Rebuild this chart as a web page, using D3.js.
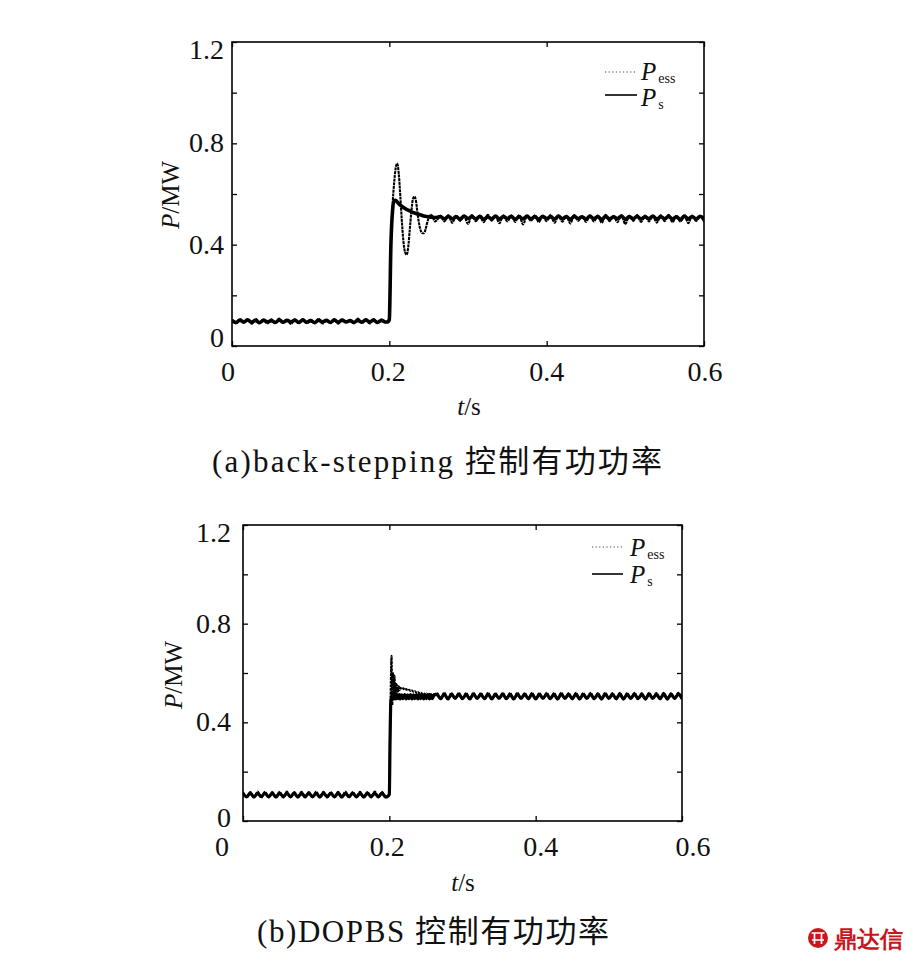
<!DOCTYPE html>
<html><head><meta charset="utf-8">
<script src="https://cdn.jsdelivr.net/npm/d3@7/dist/d3.min.js"></script>
<style>
html,body{margin:0;padding:0;background:#fff;}
svg{display:block;}
text{font-family:"Liberation Serif","Times New Roman",serif;fill:#111;}
.cjk{font-family:"Liberation Serif","Noto Sans CJK SC",serif;}
</style></head>
<body>
<svg id="c" width="913" height="961"></svg>
<script>
// ---------------- DATA ----------------
const xTicks = [0, 0.2, 0.4, 0.6];
const xTickLabels = ["0", "0.2", "0.4", "0.6"];
const yTicks = [0, 0.2, 0.4, 0.6, 0.8, 1.0, 1.2];
const yLabelValues = [0, 0.4, 0.8, 1.2];
const yTickLabels = ["0", "0.4", "0.8", "1.2"];
const seriesNames = ["P_ess", "P_s"];
const captions = ["(a)back-stepping 控制有功功率", "(b)DOPBS 控制有功功率"];

// sample times (s)
const tPre = [0,.005,.01,.015,.02,.025,.03,.035,.04,.045,.05,.055,.06,.065,.07,.075,.08,.085,.09,.095,
  .1,.105,.11,.115,.12,.125,.13,.135,.14,.145,.15,.155,.16,.165,.17,.175,.18,.185,.19,.195];
const tPost = [.265,.27,.275,.28,.285,.29,.295,.3,
  .305,.31,.315,.32,.325,.33,.335,.34,.345,.35,.355,.36,.365,.37,.375,.38,.385,.39,.395,.4,
  .405,.41,.415,.42,.425,.43,.435,.44,.445,.45,.455,.46,.465,.47,.475,.48,.485,.49,.495,.5,
  .505,.51,.515,.52,.525,.53,.535,.54,.545,.55,.555,.56,.565,.57,.575,.58,.585,.59,.595,.6];
const tTransA = [.198,.2,.202,.204,.206,.208,.21,.212,.214,.216,.218,.22,.222,.224,.226,.228,.23,.232,
  .234,.236,.238,.24,.242,.244,.246,.248,.25,.252,.254,.256,.258,.26];
const tTransB = [.199,.2,.201,.202,.203,.204,.205,.206,.207,.208,.209,.21,.211,.212,.213,.214,.215,
  .217,.219,.221,.223,.225,.227,.229,.231,.233,.235,.237,.239,.241,.243,.245,.247,.249,.251,.253,.255,.257,.259,.261];

// (a) back-stepping, P (MW)
const pessA_pre = [0.104,0.090,0.106,0.092,0.103,0.088,0.107,0.093,0.101,0.089,
  0.105,0.091,0.108,0.094,0.102,0.087,0.104,0.092,0.106,0.090,
  0.103,0.093,0.107,0.089,0.101,0.091,0.105,0.088,0.104,0.094,
  0.102,0.090,0.108,0.092,0.103,0.089,0.106,0.091,0.104,0.093];
const pessA_tr = [0.097,0.11,0.40,0.55,0.64,0.70,0.72,0.68,0.59,0.49,
  0.41,0.37,0.36,0.39,0.46,0.53,0.58,0.59,0.57,0.52,
  0.48,0.455,0.445,0.445,0.46,0.485,0.505,0.518,0.515,0.502,
  0.492,0.495];
const pessA_post = [0.514,0.492,0.516,0.486,0.515,0.494,0.512,0.482,0.517,0.493,
  0.514,0.489,0.518,0.495,0.513,0.485,0.516,0.492,0.515,0.490,
  0.517,0.480,0.514,0.494,0.516,0.489,0.513,0.493,0.518,0.487,
  0.515,0.491,0.514,0.484,0.517,0.494,0.512,0.490,0.516,0.492,
  0.515,0.486,0.518,0.493,0.513,0.489,0.516,0.481,0.514,0.494,
  0.517,0.490,0.515,0.492,0.513,0.487,0.516,0.493,0.518,0.489,
  0.514,0.491,0.517,0.485,0.515,0.494,0.513,0.489];
const psA_pre = [0.101,0.093,0.102,0.095,0.103,0.094,0.101,0.092,0.102,0.095,
  0.100,0.093,0.103,0.094,0.101,0.095,0.102,0.093,0.103,0.094,
  0.100,0.092,0.102,0.095,0.101,0.093,0.103,0.094,0.102,0.095,
  0.100,0.093,0.101,0.094,0.103,0.095,0.102,0.093,0.101,0.095];
const psA_tr = [0.095,0.105,0.40,0.53,0.572,0.575,0.568,0.562,0.556,0.551,
  0.547,0.543,0.539,0.536,0.533,0.530,0.527,0.525,0.523,0.521,
  0.519,0.517,0.515,0.513,0.512,0.511,0.510,0.509,0.508,0.508,
  0.507,0.507];
const psA_post = [0.511,0.501,0.512,0.502,0.510,0.500,0.513,0.503,0.511,0.501,
  0.512,0.499,0.510,0.502,0.513,0.501,0.511,0.503,0.512,0.500,
  0.510,0.502,0.513,0.501,0.511,0.499,0.512,0.503,0.510,0.501,
  0.513,0.502,0.511,0.500,0.512,0.503,0.510,0.501,0.513,0.502,
  0.511,0.499,0.512,0.501,0.510,0.503,0.513,0.500,0.511,0.502,
  0.512,0.501,0.510,0.503,0.513,0.500,0.511,0.502,0.512,0.501,
  0.510,0.499,0.513,0.502,0.511,0.501,0.512,0.503];

// (b) DOPBS, P (MW)
const pessB_pre = [0.118,0.096,0.117,0.097,0.119,0.095,0.118,0.096,0.117,0.097,
  0.118,0.095,0.119,0.096,0.117,0.097,0.118,0.095,0.117,0.096,
  0.119,0.097,0.118,0.095,0.117,0.096,0.118,0.097,0.119,0.095,
  0.117,0.096,0.118,0.097,0.117,0.095,0.119,0.096,0.118,0.097];
const pessB_tr = [0.105,0.11,0.35,0.55,0.67,0.47,0.60,0.50,0.59,0.51,
  0.56,0.52,0.55,0.525,0.545,0.53,0.54,
  0.535,0.538,0.532,0.535,0.53,0.532,0.527,0.529,0.524,0.526,
  0.521,0.523,0.518,0.52,0.515,0.518,0.512,0.517,0.508,0.516,
  0.506,0.515,0.505];
const pessB_post = [0.519,0.494,0.520,0.493,0.519,0.495,0.520,0.494,0.519,0.493,
  0.520,0.495,0.519,0.494,0.520,0.493,0.519,0.495,0.520,0.494,
  0.519,0.493,0.520,0.495,0.519,0.494,0.520,0.493,0.519,0.495,
  0.520,0.494,0.519,0.493,0.520,0.495,0.519,0.494,0.520,0.493,
  0.519,0.495,0.520,0.494,0.519,0.493,0.520,0.495,0.519,0.494,
  0.520,0.493,0.519,0.495,0.520,0.494,0.519,0.493,0.520,0.495,
  0.519,0.494,0.520,0.493,0.519,0.495,0.520,0.494];
const psB_pre = [0.112,0.098,0.113,0.097,0.112,0.099,0.113,0.098,0.112,0.097,
  0.113,0.099,0.112,0.098,0.113,0.097,0.112,0.099,0.113,0.098,
  0.112,0.097,0.113,0.099,0.112,0.098,0.113,0.097,0.112,0.099,
  0.113,0.098,0.112,0.097,0.113,0.099,0.112,0.098,0.113,0.097];
const psB_tr = [0.103,0.11,0.33,0.48,0.50,0.51,0.495,0.512,0.496,0.511,
  0.495,0.512,0.497,0.511,0.496,0.512,0.495,
  0.511,0.496,0.512,0.495,0.511,0.496,0.512,0.495,0.511,0.496,
  0.512,0.495,0.511,0.496,0.512,0.495,0.511,0.496,0.512,0.495,
  0.511,0.496,0.512];
const psB_post = [0.513,0.496,0.514,0.495,0.513,0.497,0.514,0.496,0.513,0.495,
  0.514,0.497,0.513,0.496,0.514,0.495,0.513,0.497,0.514,0.496,
  0.513,0.495,0.514,0.497,0.513,0.496,0.514,0.495,0.513,0.497,
  0.514,0.496,0.513,0.495,0.514,0.497,0.513,0.496,0.514,0.495,
  0.513,0.497,0.514,0.496,0.513,0.495,0.514,0.497,0.513,0.496,
  0.514,0.495,0.513,0.497,0.514,0.496,0.513,0.495,0.514,0.497,
  0.513,0.496,0.514,0.495,0.513,0.497,0.514,0.496];

// ---------------- BUILD ----------------
function series(tArrs, vArrs){
  let out = [];
  tArrs.forEach((ts,i)=>{ out = out.concat(d3.zip(ts, vArrs[i])); });
  return out;
}
const charts = [
  { left:232, right:704, top:42, bottom:346,
    pess: series([tPre,tTransA,tPost],[pessA_pre,pessA_tr,pessA_post]),
    ps: series([tPre,tTransA,tPost],[psA_pre,psA_tr,psA_post]),
    psWidth:3.6,
    xLabDx:[-4,-1,0,1], xLabY:381, yLabX:224, yLabDy:[1,9,9,17],
    yTitle:[170,195], xTitle:[469,415],
    legend:{x1:605,x2:637,y1:72,y2:95,tx:641,b1:80,b2:106},
    caption:{x:212, len:450, y:472}, capIdx:0 },
  { left:243, right:682, top:525, bottom:821,
    pess: series([tPre,tTransB,tPost],[pessB_pre,pessB_tr,pessB_post]),
    ps: series([tPre,tTransB,tPost],[psB_pre,psB_tr,psB_post]),
    psWidth:3.2,
    xLabDx:[-21,-2,5,11], xLabY:856, yLabX:231, yLabDy:[6,9,9,17],
    yTitle:[173,675], xTitle:[463,891],
    legend:{x1:592,x2:623,y1:547,y2:574,tx:630,b1:556,b2:583},
    caption:{x:257, len:352, y:942}, capIdx:1 }
];

const svg = d3.select("#c");

charts.forEach(c=>{
  const x = d3.scaleLinear().domain([0,0.6]).range([c.left,c.right]);
  const y = d3.scaleLinear().domain([0,1.2]).range([c.bottom,c.top]);
  const g = svg.append("g");

  const clip = "clip"+c.capIdx;
  svg.append("clipPath").attr("id",clip).append("rect")
    .attr("x",c.left).attr("y",c.top).attr("width",c.right-c.left).attr("height",c.bottom-c.top);

  const line = d3.line().x(d=>x(d[0])).y(d=>y(d[1])).curve(d3.curveMonotoneX);
  g.append("path").datum(c.ps).attr("d",line).attr("fill","none")
    .attr("stroke","#000").attr("stroke-width",c.psWidth).attr("stroke-linejoin","round")
    .attr("clip-path",`url(#${clip})`);
  g.append("path").datum(c.pess).attr("d",line).attr("fill","none")
    .attr("stroke","#000").attr("stroke-width",2.1).attr("stroke-dasharray","3,0.7")
    .attr("clip-path",`url(#${clip})`);

  // ticks on four sides, inward
  const styleAxis = s=>{ s.select(".domain").remove(); s.selectAll(".tick line").attr("stroke","#000").attr("stroke-width",1.3); s.selectAll(".tick text").remove(); };
  g.append("g").attr("transform",`translate(0,${c.bottom})`).call(d3.axisBottom(x).tickValues(xTicks).tickSize(-5).tickFormat("")).call(styleAxis);
  g.append("g").attr("transform",`translate(0,${c.top})`).call(d3.axisTop(x).tickValues(xTicks).tickSize(-5).tickFormat("")).call(styleAxis);
  g.append("g").attr("transform",`translate(${c.left},0)`).call(d3.axisLeft(y).tickValues(yTicks).tickSize(-5).tickFormat("")).call(styleAxis);
  g.append("g").attr("transform",`translate(${c.right},0)`).call(d3.axisRight(y).tickValues(yTicks).tickSize(-5).tickFormat("")).call(styleAxis);

  g.append("rect").attr("x",c.left).attr("y",c.top).attr("width",c.right-c.left).attr("height",c.bottom-c.top)
    .attr("fill","none").attr("stroke","#000").attr("stroke-width",1.6);

  // tick labels
  xTicks.forEach((v,i)=>{
    g.append("text").attr("x",x(v)+c.xLabDx[i]).attr("y",c.xLabY).attr("text-anchor","middle")
      .attr("font-size",28).text(xTickLabels[i]);
  });
  yLabelValues.forEach((v,i)=>{
    g.append("text").attr("x",c.yLabX).attr("y",y(v)+c.yLabDy[i]).attr("text-anchor","end")
      .attr("font-size",28).text(yTickLabels[i]);
  });

  // axis titles
  const yt = g.append("text").attr("transform",`translate(${c.yTitle[0]},${c.yTitle[1]}) rotate(-90)`)
    .attr("text-anchor","middle").attr("dy","0.35em").attr("font-size",25);
  yt.append("tspan").attr("font-style","italic").text("P");
  yt.append("tspan").text("/MW");
  const xt = g.append("text").attr("x",c.xTitle[0]).attr("y",c.xTitle[1]).attr("text-anchor","middle").attr("font-size",25);
  xt.append("tspan").attr("font-style","italic").text("t");
  xt.append("tspan").text("/s");

  // legend
  const L = c.legend;
  g.append("line").attr("x1",L.x1).attr("x2",L.x2).attr("y1",L.y1).attr("y2",L.y1)
    .attr("stroke","#444").attr("stroke-width",1.2).attr("stroke-dasharray","1.2,2.4");
  g.append("line").attr("x1",L.x1).attr("x2",L.x2).attr("y1",L.y2).attr("y2",L.y2)
    .attr("stroke","#000").attr("stroke-width",1.6);
  const l1 = g.append("text").attr("x",L.tx).attr("y",L.b1).attr("font-size",25);
  l1.append("tspan").attr("font-style","italic").text(seriesNames[0].split("_")[0]);
  l1.append("tspan").attr("font-size",14).attr("dy",3).attr("dx",2).text(seriesNames[0].split("_")[1]);
  const l2 = g.append("text").attr("x",L.tx).attr("y",L.b2).attr("font-size",25);
  l2.append("tspan").attr("font-style","italic").text(seriesNames[1].split("_")[0]);
  l2.append("tspan").attr("font-size",14).attr("dy",3).attr("dx",2).text(seriesNames[1].split("_")[1]);

  // caption
  g.append("text").attr("class","cjk").attr("x",c.caption.x).attr("y",c.caption.y)
    .attr("font-size",31).attr("textLength",c.caption.len).attr("lengthAdjust","spacing")
    .text(captions[c.capIdx]);
});

// watermark
const wm = svg.append("g");
wm.append("circle").attr("cx",818).attr("cy",938).attr("r",10).attr("fill","#c8161d");
wm.append("path").attr("d","M811.5,933 L824.5,933 M814.5,933 L814.5,944 M821.5,933 L821.5,944 M812,940 L824,940")
  .attr("stroke","#fff").attr("stroke-width",1.7).attr("fill","none");
wm.append("text").attr("x",834).attr("y",947).attr("font-size",23).attr("font-weight","bold")
  .attr("font-family","'Noto Sans CJK SC',sans-serif").style("fill","#c8161d").text("鼎达信");
</script>
</body></html>
